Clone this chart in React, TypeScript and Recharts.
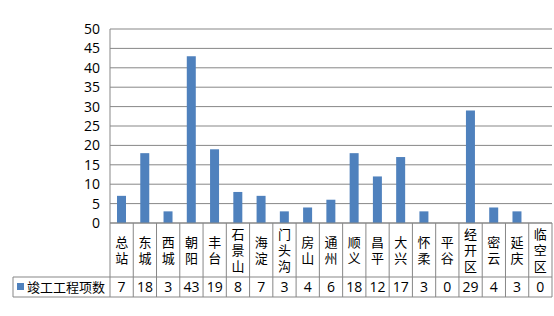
import React from "react";
import { BarChart, Bar, XAxis, YAxis, CartesianGrid } from "recharts";

const categories = ["总站", "东城", "西城", "朝阳", "丰台", "石景山", "海淀", "门头沟", "房山", "通州", "顺义", "昌平", "大兴", "怀柔", "平谷", "经开区", "密云", "延庆", "临空区"];
const completed = [7, 18, 3, 43, 19, 8, 7, 3, 4, 6, 18, 12, 17, 3, 0, 29, 4, 3, 0];
const yTicks = [0, 5, 10, 15, 20, 25, 30, 35, 40, 45, 50];
const seriesName = "竣工工程项数";

const data = categories.map((c, i) => ({ name: c, value: completed[i] }));

const W = 554;
const H = 316;
const PLOT_LEFT = 110;
const PLOT_RIGHT = 552;
const PLOT_TOP = 29;
const X_AXIS_H = 74;
const BOTTOM_MARGIN = 19;
const PLOT_BOTTOM = H - BOTTOM_MARGIN - X_AXIS_H;
const ROW_SPLIT = 277;
const TABLE_BOTTOM = H - BOTTOM_MARGIN;
const LEGEND_LEFT = 13;
const BAND = (PLOT_RIGHT - PLOT_LEFT) / categories.length;
const LINE = "#878787";
const BAR = "#4F81BD";
const CJK = "'Noto Sans CJK SC', sans-serif";
const NUM = "'Open Sans', 'Liberation Sans', sans-serif";
const CHAR_GAP = 3;

const XTick = (props: any) => {
  const { x, index, payload } = props;
  const label: string = payload.value;
  const center = (PLOT_BOTTOM + ROW_SPLIT) / 2;
  const left = x - BAND / 2;
  const right = x + BAND / 2;
  return (
    <g>
      {index === 0 && (
        <g>
          <line x1={LEGEND_LEFT} x2={PLOT_RIGHT} y1={ROW_SPLIT} y2={ROW_SPLIT} stroke={LINE} />
          <line x1={LEGEND_LEFT} x2={PLOT_RIGHT} y1={TABLE_BOTTOM} y2={TABLE_BOTTOM} stroke={LINE} />
          <line x1={LEGEND_LEFT} x2={LEGEND_LEFT} y1={ROW_SPLIT} y2={TABLE_BOTTOM} stroke={LINE} />
          <rect x={17} y={283} width={7} height={7} fill={BAR} />
          <text x={27} y={(ROW_SPLIT + TABLE_BOTTOM) / 2} dy="0.36em" fontSize={13} fontFamily={CJK} fill="#000">
            {seriesName}
          </text>
        </g>
      )}
      <line x1={left} x2={left} y1={PLOT_BOTTOM} y2={TABLE_BOTTOM} stroke={LINE} />
      {index === categories.length - 1 && (
        <line x1={right} x2={right} y1={PLOT_BOTTOM} y2={TABLE_BOTTOM} stroke={LINE} />
      )}
      <text
        x={x}
        y={center + CHAR_GAP / 2}
        textAnchor="middle"
        fontSize={13}
        fontFamily={CJK}
        fill="#000"
        letterSpacing={CHAR_GAP}
        style={{ writingMode: "vertical-rl" }}
      >
        {label}
      </text>
      <text x={x} y={(ROW_SPLIT + TABLE_BOTTOM) / 2} dy="0.36em" textAnchor="middle" fontSize={14} fontFamily={NUM} fill="#000">
        {completed[index]}
      </text>
    </g>
  );
};

const YTick = (props: any) => {
  const { y, payload } = props;
  return (
    <text x={PLOT_LEFT - 10} y={y} dy="0.36em" textAnchor="end" fontSize={14} fontFamily={NUM} fill="#000">
      {payload.value}
    </text>
  );
};

export default function App() {
  return (
    <div style={{ width: W, height: H, background: "#fff" }}>
      <style>{`body{margin:0}`}</style>
      <BarChart
        width={W}
        height={H}
        data={data}
        margin={{ top: PLOT_TOP, right: W - PLOT_RIGHT, left: 0, bottom: BOTTOM_MARGIN }}
        barSize={9}
      >
        <CartesianGrid vertical={false} stroke={LINE} strokeDasharray="" />
        <XAxis
          dataKey="name"
          height={X_AXIS_H}
          interval={0}
          tickLine={false}
          axisLine={{ stroke: LINE }}
          tick={<XTick />}
        />
        <YAxis
          width={PLOT_LEFT}
          domain={[0, 50]}
          ticks={yTicks}
          interval={0}
          tickLine={false}
          axisLine={{ stroke: LINE }}
          tick={<YTick />}
        />
        <Bar dataKey="value" fill={BAR} isAnimationActive={false} />
      </BarChart>
    </div>
  );
}
